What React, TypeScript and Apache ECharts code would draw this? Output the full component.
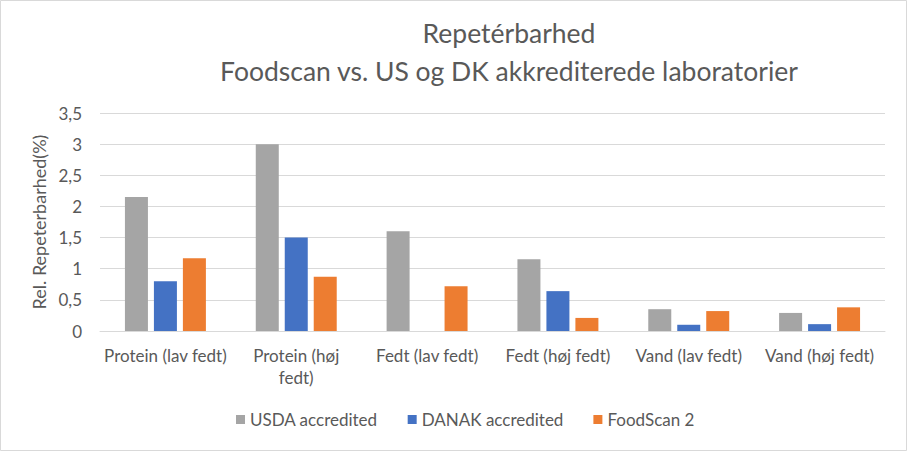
import React, { useEffect, useRef } from "react";
import * as echarts from "echarts";

const categories = [
  "Protein (lav fedt)",
  "Protein (høj\nfedt)",
  "Fedt (lav fedt)",
  "Fedt (høj fedt)",
  "Vand (lav fedt)",
  "Vand (høj fedt)",
];
const usda = [2.15, 3.0, 1.6, 1.15, 0.35, 0.29];
const danak = [0.8, 1.5, null, 0.64, 0.1, 0.11];
const foodscan = [1.17, 0.87, 0.72, 0.21, 0.32, 0.38];
const seriesNames = ["USDA accredited", "DANAK accredited", "FoodScan 2"];
const titleLines = ["Repetérbarhed", "Foodscan vs. US og DK akkrediterede laboratorier"];
const yAxisName = "Rel. Repeterbarhed(%)";

const FONT = "Lato";
const TXT = "#595959";

export default function App() {
  const ref = useRef<HTMLDivElement>(null);
  useEffect(() => {
    const chart = echarts.init(ref.current!, null, { renderer: "svg" });
    chart.setOption({
      animation: false,
      backgroundColor: "#fff",
      textStyle: { fontFamily: FONT },
      title: {
        text: titleLines.join("\n"),
        left: 504,
        top: 9,
        textAlign: "center",
        textStyle: { fontFamily: FONT, fontSize: 26.5, fontWeight: "normal", color: TXT, lineHeight: 38 },
      },
      legend: {
        bottom: 19,
        left: 231,
        itemWidth: 9,
        itemHeight: 9,
        itemGap: 30,
        icon: "rect",
        textStyle: { fontFamily: FONT, fontSize: 17, color: TXT },
        data: seriesNames,
      },
      grid: { left: 100, right: 23, top: 113, bottom: 121, containLabel: false },
      xAxis: {
        type: "category",
        data: categories,
        axisLine: { lineStyle: { color: "#D9D9D9", width: 1 } },
        axisTick: { show: false },
        axisLabel: { fontFamily: FONT, fontSize: 17, color: TXT, margin: 13, lineHeight: 22, interval: 0 },
      },
      yAxis: {
        type: "value",
        min: 0,
        max: 3.5,
        interval: 0.5,
        name: yAxisName,
        nameLocation: "middle",
        nameGap: 52,
        nameTextStyle: { fontFamily: FONT, fontSize: 18, color: TXT },
        axisLine: { show: false },
        axisTick: { show: false },
        splitLine: { lineStyle: { color: "#D9D9D9", width: 1 } },
        axisLabel: {
          fontFamily: FONT,
          fontSize: 17,
          color: TXT,
          margin: 18,
          formatter: (v: number) => String(v).replace(".", ","),
        },
      },
      series: [
        { name: seriesNames[0], type: "bar", data: usda, barWidth: 23, barGap: "26%", itemStyle: { color: "#A5A5A5" } },
        { name: seriesNames[1], type: "bar", data: danak, barWidth: 23, barGap: "26%", itemStyle: { color: "#4472C4" } },
        { name: seriesNames[2], type: "bar", data: foodscan, barWidth: 23, barGap: "26%", itemStyle: { color: "#ED7D31" } },
      ],
      graphic: [
        {
          type: "rect",
          shape: { x: 0.5, y: 0.5, width: 906, height: 450 },
          style: { fill: "none", stroke: "#D9D9D9", lineWidth: 1 },
          silent: true,
        },
      ],
    });
    return () => chart.dispose();
  }, []);
  return (
    <div
      ref={ref}
      style={{ position: "fixed", left: 0, top: 0, width: 908, height: 452 }}
    />
  );
}
